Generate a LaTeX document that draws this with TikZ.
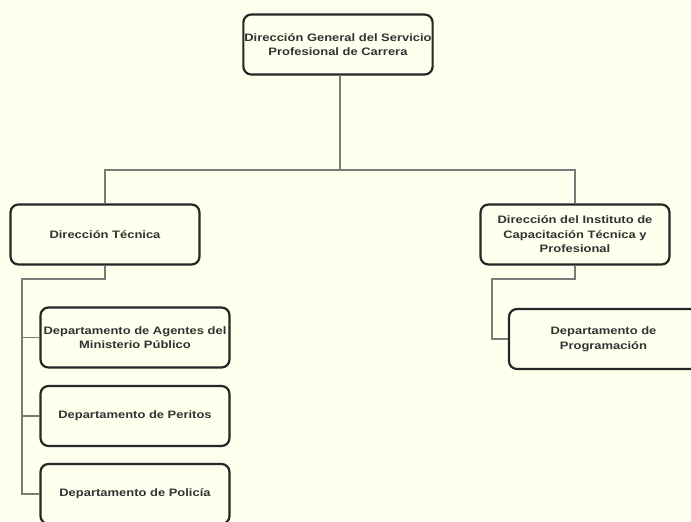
\documentclass[tikz,border=0pt]{standalone}
\usepackage{fontspec}
\setmainfont{Liberation Sans}[FakeStretch=1.2]
\usetikzlibrary{positioning,calc}
\definecolor{paper}{HTML}{FFFFEE}
\definecolor{ink}{HTML}{333333}
\definecolor{wire}{HTML}{7A7A7A}
\tikzset{
  orgbox/.style={rectangle,draw=black!85,line width=2.2pt,rounded corners=8pt,fill=paper,
    minimum width=189pt,minimum height=60pt,align=center,text=ink,inner xsep=1pt,
    font=\bfseries\fontsize{10.8}{14.5}\selectfont},
  wire/.style={draw=wire,line width=1.5pt}
}
\begin{document}
\begin{tikzpicture}[x=1pt,y=-1pt]
\useasboundingbox (0,0) rectangle (691,522);
\clip (0,0) rectangle (691,522);
\fill[paper] (0,0) rectangle (691,522);

% Direccion general
\node[orgbox] (dg) at (338,44.5) {Dirección General del Servicio\\Profesional de Carrera};

% Direcciones
\node[orgbox] (dt) at (105,234.5) {Dirección Técnica};
\node[orgbox] (dict) at (575,234.5) {Dirección del Instituto de\\Capacitación Técnica y\\Profesional};

% Departamentos
\node[orgbox] (dag) at (135,337.5) {Departamento de Agentes del\\Ministerio Público};
\node[orgbox] (dper) at (135,416) {Departamento de Peritos};
\node[orgbox] (dpol) at (135,494) {Departamento de Policía};
\node[orgbox] (dprog) at (603.5,339) {Departamento de\\Programación};

% Lineas
\coordinate (bus) at (340,170);
\coordinate (tbus) at (22,279);
\coordinate (ibus) at (492,279);
\draw[wire] (bus |- dg.south) -- (bus);
\draw[wire] (dt.north) |- (bus) -| (dict.north);
\draw[wire] (dt.south) |- (tbus) |- (dpol.west);
\draw[wire] (tbus |- dag.west) -- (dag.west);
\draw[wire] (tbus |- dper.west) -- (dper.west);
\draw[wire] (dict.south) |- (ibus) |- (dprog.west);
\end{tikzpicture}
\end{document}
